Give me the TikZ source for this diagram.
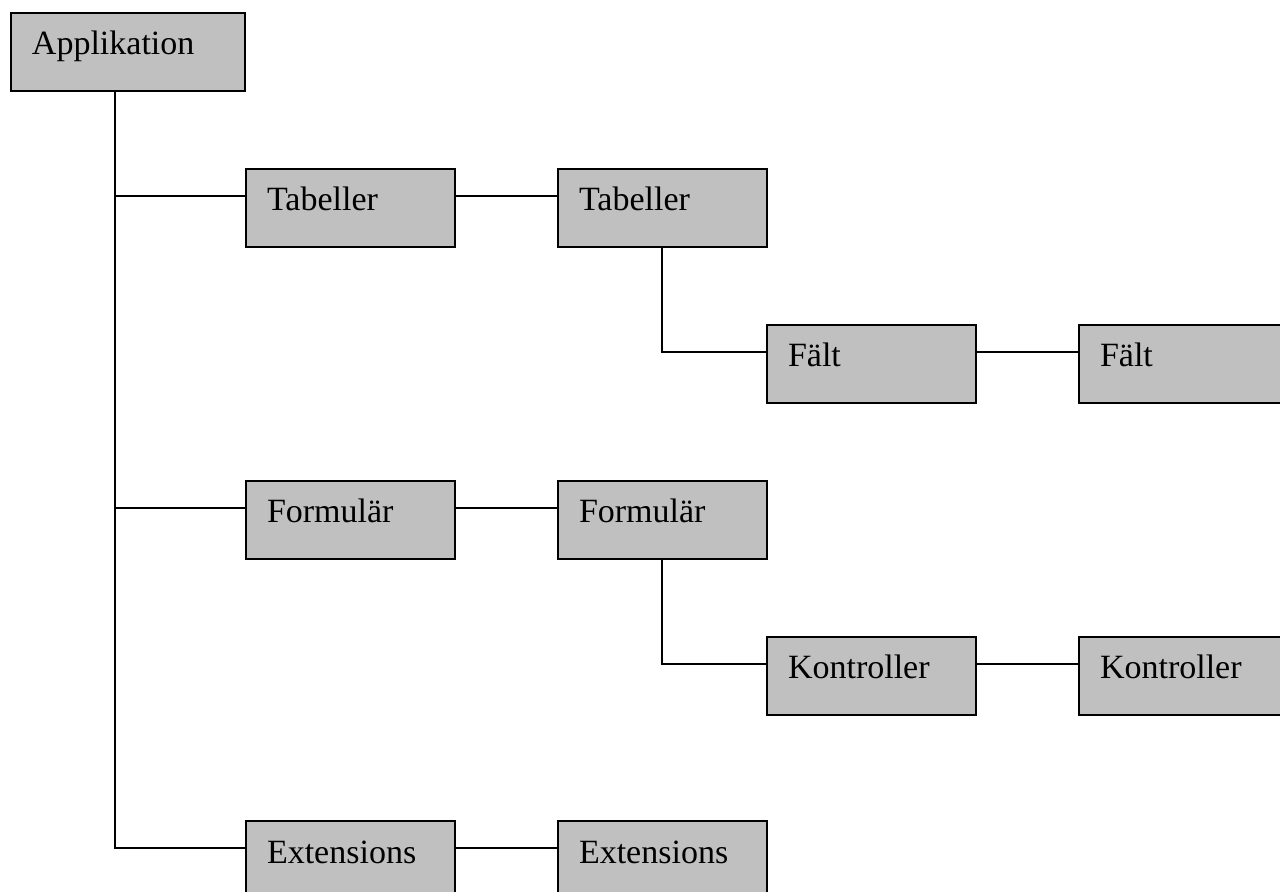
\documentclass[tikz,border=0pt]{standalone}
\usepackage{fontspec}
\setmainfont{Liberation Serif}
\definecolor{boxgray}{HTML}{C0C0C0}
\begin{document}
\begin{tikzpicture}[x=0.5pt,y=-0.5pt,
  box/.style={draw, line width=1pt, fill=boxgray, anchor=north west,
    inner xsep=10.5pt, inner ysep=0pt, text height=21pt, text depth=18pt,
    text width=83.5pt, align=left, font=\fontsize{17}{20}\selectfont},
  wide/.style={text width=96pt},
  link/.style={line width=1pt}]
\useasboundingbox (0,0) rectangle (1280,892);
\clip (0,0) rectangle (1280,892);

% boxes
\node[box, wide] (app) at (10,12) {Applikation};
\node[box] (tab1) at (245,168) {Tabeller};
\node[box] (tab2) at (557,168) {Tabeller};
\node[box] (falt1) at (766,324) {Fält};
\node[box] (falt2) at (1078,324) {Fält};
\node[box] (form1) at (245,480) {Formulär};
\node[box] (form2) at (557,480) {Formulär};
\node[box] (kont1) at (766,636) {Kontroller};
\node[box] (kont2) at (1078,636) {Kontroller};
\node[box] (ext1) at (245,820) {Extensions};
\node[box] (ext2) at (557,820) {Extensions};

% connection points
\coordinate (trunk) at ([xshift=52.5pt]app.south west);
\coordinate (tabdrop) at ([xshift=52.5pt]tab2.south west);
\coordinate (formdrop) at ([xshift=52.5pt]form2.south west);
\foreach \n in {tab1,tab2,falt1,falt2,form1,form2,kont1,kont2,ext1,ext2}{
  \coordinate (\n-in) at ([yshift=-14pt]\n.north west);
  \coordinate (\n-out) at ([yshift=-14pt]\n.north east);
}

% connectors
\draw[link] (trunk) |- (ext1-in);
\draw[link] (trunk |- tab1-in) -- (tab1-in);
\draw[link] (trunk |- form1-in) -- (form1-in);
\draw[link] (tab1-out) -- (tab2-in);
\draw[link] (form1-out) -- (form2-in);
\draw[link] (ext1-out) -- (ext2-in);
\draw[link] (tabdrop) |- (falt1-in);
\draw[link] (formdrop) |- (kont1-in);
\draw[link] (falt1-out) -- (falt2-in);
\draw[link] (kont1-out) -- (kont2-in);
\end{tikzpicture}
\end{document}
